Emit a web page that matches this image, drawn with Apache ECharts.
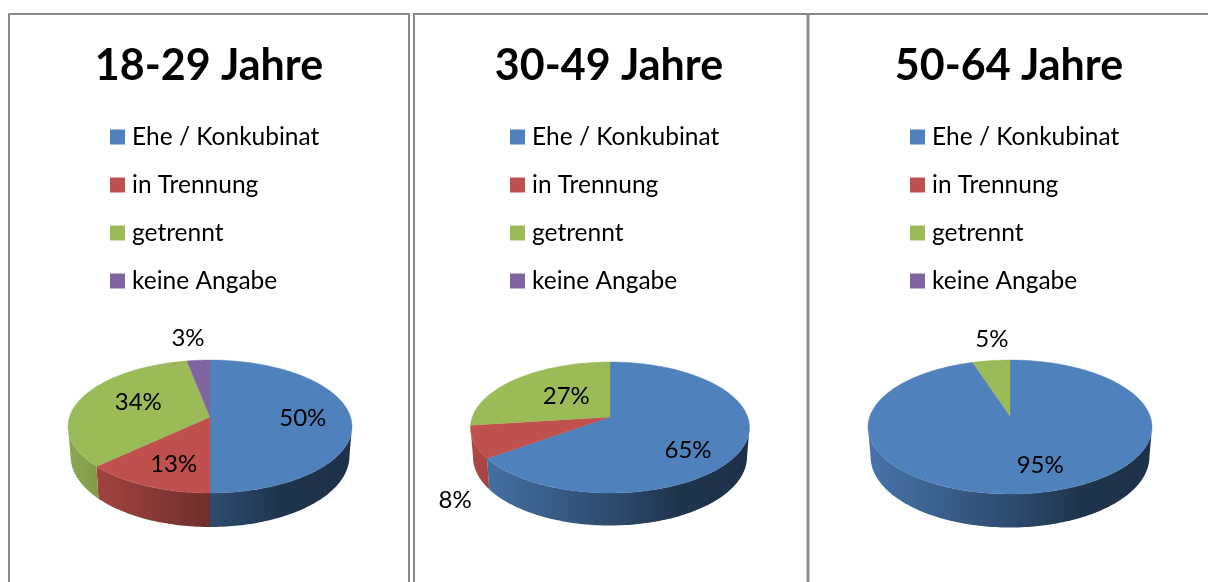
<!DOCTYPE html>
<html>
<head>
<meta charset="utf-8">
<style>html,body{margin:0;padding:0;background:#fff}#c{width:1208px;height:582px}</style>
<script src="https://cdn.jsdelivr.net/npm/echarts@6/dist/echarts.min.js"></script>
</head>
<body>
<div id="c"></div>
<script>
// ---- data ----
const categories = ['Ehe / Konkubinat', 'in Trennung', 'getrennt', 'keine Angabe'];
const ageGroups = ['18-29 Jahre', '30-49 Jahre', '50-64 Jahre'];
const values1829 = [50, 13, 34, 3];
const values3049 = [65, 8, 27, 0];
const values5064 = [95, 0, 5, 0];
const allValues = [values1829, values3049, values5064];

// ---- styles and layout (not data) ----
const colors = ['#4f81bd', '#c0504d', '#9bbb59', '#8064a2'];
const FONT = 'Lato, "Open Sans", sans-serif';
// perspective disc per panel: cx, apex y, top y, front y, wall-bottom y, half width
const discs = [
  { cx: 210, apexY: 417, topY: 360, frontY: 493, baseY: 527, halfW: 142 },
  { cx: 610, apexY: 417, topY: 362, frontY: 493, baseY: 525.5, halfW: 139.5 },
  { cx: 1010, apexY: 416, topY: 360, frontY: 494, baseY: 527.5, halfW: 142 }
];
// per-panel label nudge, px, relative to the default anchor of the slice
const labelNudges = [
  [[0, 1], [4, 4], [14, -2], [-14, -40]],
  [[-7, 13], [-67, 67], [20, 5], [0, 0]],
  [[14, 2], [0, 0], [-5, -38], [0, 0]]
];
const legendLefts = [105, 505, 905];
const frames = [[9, 14, 400], [414, 14, 393.5], [808.5, 14, 500]];
const WALL_OFFSET = 29, WALL_SX = 0.982;

function shade(hex, f) {
  const n = parseInt(hex.slice(1), 16);
  const c = [n >> 16 & 255, n >> 8 & 255, n & 255].map(v => Math.round(v * f));
  return 'rgb(' + c.join(',') + ')';
}
function skew(d) {
  const up = d.apexY - d.topY, dn = d.frontY - d.apexY;
  return (up - dn) / (up + dn);
}
function projector(d) {
  const k = skew(d);
  const B = (d.apexY - d.topY) * (1 - k);
  const A = d.halfW * Math.sqrt(1 - k * k);
  return function (ang, r, sx, sy, off) {
    const X = r * Math.sin(ang), Y = -r * Math.cos(ang), w = 1 + k * Y;
    return [d.cx + sx * A * X / w, d.apexY + off + sy * B * Y / w];
  };
}
function arc(project, a0, a1, sx, sy, off) {
  const n = Math.max(2, Math.ceil((a1 - a0) / 0.02));
  const pts = [];
  for (let i = 0; i <= n; i++) pts.push(project(a0 + (a1 - a0) * i / n, 1, sx, sy, off));
  return pts;
}

const series = [];
allValues.forEach(function (vals, p) {
  const d = discs[p];
  const project = projector(d);
  const total = vals.reduce((a, b) => a + b, 0);
  // only the part of the rim in front of the silhouette points shows a wall
  const visStart = Math.acos(skew(d));
  const visEnd = Math.PI * 2 - visStart;
  let cum = 0;
  vals.forEach(function (v, i) {
    const a0 = cum / total * Math.PI * 2;
    cum += v;
    const a1 = cum / total * Math.PI * 2;
    series.push({
      type: 'custom',
      name: categories[i],
      coordinateSystem: 'none',
      silent: true,
      itemStyle: { color: colors[i] },
      data: [[v]],
      renderItem: function (params, api) {
        const value = api.value(0);
        if (!value) return null;
        const topRim = arc(project, a0, a1, 1, 1, 0);
        const sy = (d.baseY - d.apexY - WALL_OFFSET) / (d.frontY - d.apexY);
        const x0 = d.cx - d.halfW, x1 = d.cx + d.halfW;
        const wallFill = new echarts.graphic.LinearGradient(x0, 0, x1, 0, [
          { offset: 0, color: shade(colors[i], 0.9) },
          { offset: 0.5, color: shade(colors[i], 0.58) },
          { offset: 0.75, color: shade(colors[i], 0.4) },
          { offset: 1, color: shade(colors[i], 0.38) }
        ], true);
        const apex = project(0, 0, 1, 1, 0);
        const mid = (a0 + a1) / 2;
        const anchor = project(mid, 0.66, 1, 1, 0);
        const nudge = labelNudges[p][i];
        const children = [];
        const w0 = Math.max(a0, visStart), w1 = Math.min(a1, visEnd);
        if (w1 > w0) {
          const wallTop = arc(project, w0, w1, 1, 1, 0);
          const wallBot = arc(project, w0, w1, WALL_SX, sy, WALL_OFFSET);
          children.push({
            type: 'polygon', z2: 1,
            shape: { points: wallTop.concat(wallBot.reverse()) },
            style: { fill: wallFill }
          });
        }
        children.push({
          type: 'polygon', z2: 2,
          shape: { points: [apex].concat(topRim) },
          style: { fill: colors[i], stroke: colors[i], lineWidth: 0.4 }
        });
        children.push({
          type: 'text', z2: 3,
          x: anchor[0] + nudge[0], y: anchor[1] + nudge[1],
          style: {
            text: value + '%', fill: '#000', font: '24px ' + FONT,
            align: 'center', verticalAlign: 'middle'
          }
        });
        return { type: 'group', children: children };
      }
    });
  });
});

const option = {
  animation: false,
  backgroundColor: '#fff',
  title: ageGroups.map((t, p) => ({
    text: t, left: discs[p].cx - 6, top: 32, textAlign: 'center',
    textStyle: { color: '#000', fontFamily: FONT, fontWeight: 'bold', fontSize: 43, lineHeight: 58 }
  })),
  legend: legendLefts.map(l => ({
    data: categories, orient: 'vertical', left: l, top: 118,
    icon: 'rect', itemWidth: 15, itemHeight: 15, itemGap: 20,
    selectedMode: false,
    textStyle: { color: '#000', fontFamily: FONT, fontSize: 24.5, lineHeight: 28, padding: [0, 0, 0, 2] }
  })),
  graphic: frames.map(f => ({
    type: 'rect', silent: true, z: -1,
    shape: { x: f[0], y: f[1], width: f[2], height: 700 },
    style: { fill: 'none', stroke: '#8a8a8a', lineWidth: 2 }
  })),
  series: series
};
const chart = echarts.init(document.getElementById('c'), null, { renderer: 'canvas' });
chart.setOption(option);
</script>
</body>
</html>
